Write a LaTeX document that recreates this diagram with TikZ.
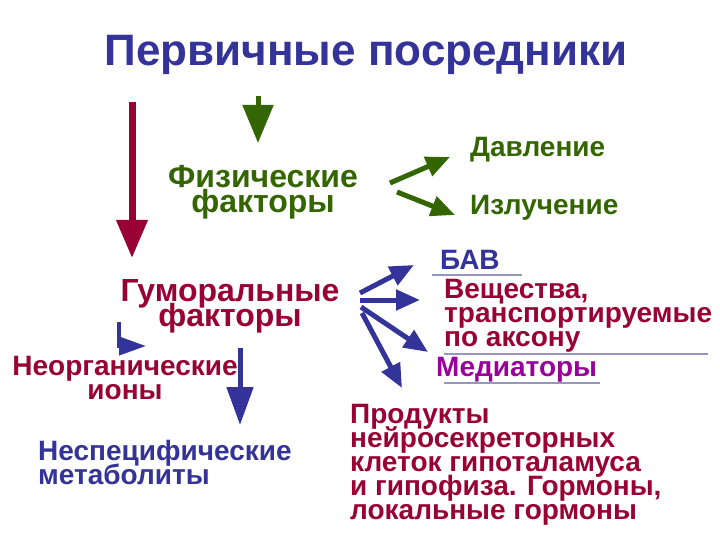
\documentclass[tikz,border=0pt]{standalone}
\usepackage{fontspec}
\setmainfont{Liberation Sans}
\usetikzlibrary{arrows.meta}
\definecolor{navy}{RGB}{51,51,153}
\definecolor{crimson}{RGB}{153,0,51}
\definecolor{leaf}{RGB}{51,102,0}
\definecolor{plum}{RGB}{153,0,153}
\definecolor{rule}{RGB}{150,150,190}
\newcommand\tightlines{\lineskiplimit=-40pt\relax}
\begin{document}
\begin{tikzpicture}[x=1pt, y=-1pt,
		label/.style={font=\bfseries\fontsize{28}{24}\selectfont\tightlines, inner sep=0pt},
		biglabel/.style={label, font=\bfseries\fontsize{32}{25}\selectfont\tightlines},
		big/.style={line width=7pt, -{Triangle[length=38pt,width=30pt]}},
		small/.style={line width=5pt, -{Triangle[length=24pt,width=20pt]}},
		underline/.style={draw=rule, line width=1.5pt}
		]
	\useasboundingbox (0,0) rectangle (720,540);
	% title
	\node [label, navy, font=\bfseries\fontsize{44}{44}\selectfont] (title) at (366,55) {Первичные посредники};
	% physical branch
	\node [biglabel, leaf, align=center] (fiz) at (263,192) {Физические\\факторы};
	\node [label, leaf, anchor=west] (davl) at (470,150) {Давление};
	\node [label, leaf, anchor=west] (izl) at (470,208) {Излучение};
	% humoral branch
	\node [biglabel, crimson, align=center] (gum) at (230,306) {Гуморальные\\факторы};
	\node [label, navy, anchor=west] (bav) at (440,260) {БАВ};
	\node [label, crimson, anchor=west, align=left] (vesh) at (444,316) {Вещества,\\транспортируемые\\по аксону};
	\node [label, plum, anchor=west] (medi) at (436,370) {Медиаторы};
	\node [label, crimson, anchor=west, align=left] (prod) at (350,465) {Продукты\\нейросекреторных\\клеток гипоталамуса\\и гипофиза. Гормоны,\\локальные гормоны};
	\node [label, crimson, align=center] (neorg) at (125,378) {Неорганические\\ионы};
	\node [label, navy, anchor=west, align=left] (nespec) at (38,462) {Неспецифические\\метаболиты};
	% arrow ends
	\coordinate (redTop) at (132,102);
	\coordinate (redEnd) at (132,258);
	\coordinate (greenTop) at (258,96);
	\coordinate (greenEnd) at (258,143);
	\coordinate (fizA) at (390,183);
	\coordinate (fizB) at (397,192);
	\coordinate (gumA) at (360,293);
	\coordinate (gumB) at (360,300);
	\coordinate (gumC) at (361,307);
	\coordinate (gumD) at (362,313);
	\coordinate (elbow) at (119,322);
	\coordinate (metTop) at (240,348);
	\draw [big, crimson] (redTop) -- (redEnd);
	\draw [big, leaf, line width=5pt] (greenTop) -- (greenEnd);
	\draw [small, leaf] (fizA) -- (450,157);
	\draw [small, leaf] (fizB) -- (455,215);
	\draw [small, navy] (gumA) -- (414,265);
	\draw [small, navy] (gumB) -- (420,300);
	\draw [small, navy] (gumC) -- (428,352);
	\draw [small, navy] (gumD) -- (402,388);
	\draw [navy, line width=4pt, -{Triangle[length=27pt,width=18pt]}] (elbow) |- (146,346);
	\draw [small, navy, -{Triangle[length=38pt,width=26pt]}] (metTop) -- (240,425);
	% rules under labels
	\draw [underline] (432,275) -- (522,275);
	\draw [underline] (444,354) -- (708,354);
	\draw [underline] (444,383) -- (600,383);
\end{tikzpicture}
\end{document}
